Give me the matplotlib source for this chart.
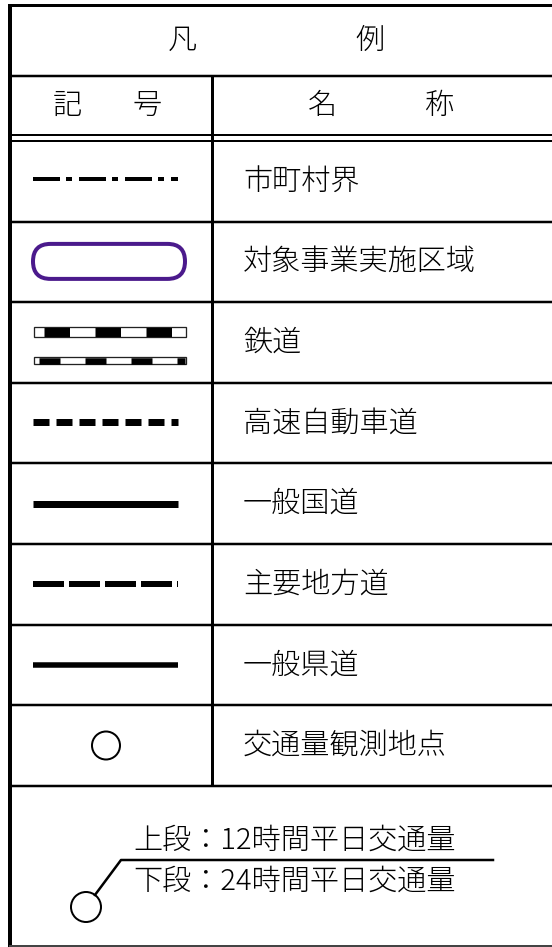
import matplotlib
matplotlib.use("Agg")
import matplotlib.pyplot as plt
from matplotlib.patches import Rectangle, FancyBboxPatch, Circle
import numpy as np

plt.rcParams['font.family'] = ['Noto Sans CJK JP', 'DejaVu Sans']
plt.rcParams['font.weight'] = 'light'
plt.rcParams['lines.scale_dashes'] = False

# legend contents
title_chars = ['凡', '例']
head_symbol = ['記', '号']
head_name = ['名', '称']
names = ['市町村界', '対象事業実施区域', '鉄道', '高速自動車道',
         '一般国道', '主要地方道', '一般県道', '交通量観測地点']
symbols = ['boundary', 'area', 'rail', 'expressway',
           'national', 'major', 'prefectural', 'point']
note_upper = '上段：12時間平日交通量'
note_lower = '下段：24時間平日交通量'

W, H = 552, 947
PX = 0.72  # points per pixel at dpi 100

fig = plt.figure(figsize=(W / 100, H / 100), dpi=100)
ax = fig.add_axes([0, 0, 1, 1])
ax.set_xlim(0, W)
ax.set_ylim(H, 0)
ax.axis('off')

left, top, bottom = 10, 5, 945.5
col_x = 212
head1 = 76
dbl1, dbl2 = 135, 141
row_h = 80.6
rows_y = dbl2 + row_h * np.arange(len(names) + 1)

# frame
ax.plot([left, left], [top - 1.5, bottom + 1], color='black', lw=4 * PX, solid_capstyle='butt')
ax.plot([left, W], [top, top], color='black', lw=3 * PX, solid_capstyle='butt')
ax.plot([left, W], [bottom, bottom], color='#444444', lw=2 * PX)
ax.plot([left, W], [head1, head1], color='black', lw=2.5 * PX)
ax.plot([left, W], [dbl1, dbl1], color='black', lw=2 * PX)
ax.plot([left, W], [dbl2, dbl2], color='black', lw=2 * PX)
for y in rows_y[1:]:
    ax.plot([left, W], [y, y], color='black', lw=2.5 * PX)
ax.plot([col_x, col_x], [head1, rows_y[-1]], color='black', lw=3 * PX, solid_capstyle='butt')

fs = 21
ax.text(182, 41, title_chars[0], fontsize=fs, ha='center', va='center')
ax.text(370, 41, title_chars[1], fontsize=fs, ha='center', va='center')
ax.text(67, 106, head_symbol[0], fontsize=fs, ha='center', va='center')
ax.text(147, 106, head_symbol[1], fontsize=fs, ha='center', va='center')
ax.text(322, 106, head_name[0], fontsize=fs, ha='center', va='center')
ax.text(440, 106, head_name[1], fontsize=fs, ha='center', va='center')


def dashed(xs, ys, lw, seq, offset=0):
    ln, = ax.plot(xs, ys, color='black', lw=lw, solid_capstyle='butt', dash_capstyle='butt')
    ln.set_linestyle((offset * PX, [v * PX for v in seq]))
    return ln


x0, x1 = 33, 178
for i, (name, sym) in enumerate(zip(names, symbols)):
    yc = (rows_y[i] + rows_y[i + 1]) / 2
    ax.text(243, yc, name, fontsize=fs, ha='left', va='center')
    if sym == 'boundary':
        dashed([x0, x1], [yc - 2, yc - 2], 4 * PX, [27, 6, 6, 7])
    elif sym == 'area':
        ax.add_patch(FancyBboxPatch((33, yc - 18), 152, 35,
                                    boxstyle='round,pad=0,rounding_size=17.5',
                                    fc='none', ec='#4b1a8c', lw=4 * PX))
    elif sym == 'rail':
        for yb, hb, on, off, first in [(331.5, 10, 25.5, 25.5, 9), (360.5, 7.5, 21, 25, 4)]:
            ax.add_patch(Rectangle((34, yb - hb / 2), 152, hb, fc='white', ec='#222222', lw=1.3 * PX))
            dashed([35, 185], [yb, yb], (hb - 1) * PX, [on, off], offset=on + off - first)
    elif sym == 'expressway':
        dashed([x0, x1], [yc - 1, yc - 1], 7 * PX, [16, 7])
    elif sym == 'national':
        ax.plot([x0, x1], [yc, yc], color='black', lw=7 * PX, solid_capstyle='butt')
    elif sym == 'major':
        dashed([x0, x1], [yc, yc], 6 * PX, [31, 5])
    elif sym == 'prefectural':
        ax.plot([x0, x1], [yc, yc], color='black', lw=5.5 * PX, solid_capstyle='butt')
    elif sym == 'point':
        ax.add_patch(Circle((106, yc), 14, fc='white', ec='black', lw=2 * PX))

# traffic count annotation
cx, cy, r = 86, 907, 15
kx, ky = 121, 860
d = np.array([kx - cx, ky - cy], dtype=float)
d /= np.hypot(*d)
ax.add_patch(Circle((cx, cy), r, fc='white', ec='black', lw=2 * PX))
ax.plot([cx + r * d[0], kx, 493], [cy + r * d[1], ky, ky], color='black', lw=2.5 * PX)
ax.text(133, 840, note_upper, fontsize=fs, ha='left', va='center')
ax.text(133, 881, note_lower, fontsize=fs, ha='left', va='center')

fig.savefig('out.png', dpi=100)
